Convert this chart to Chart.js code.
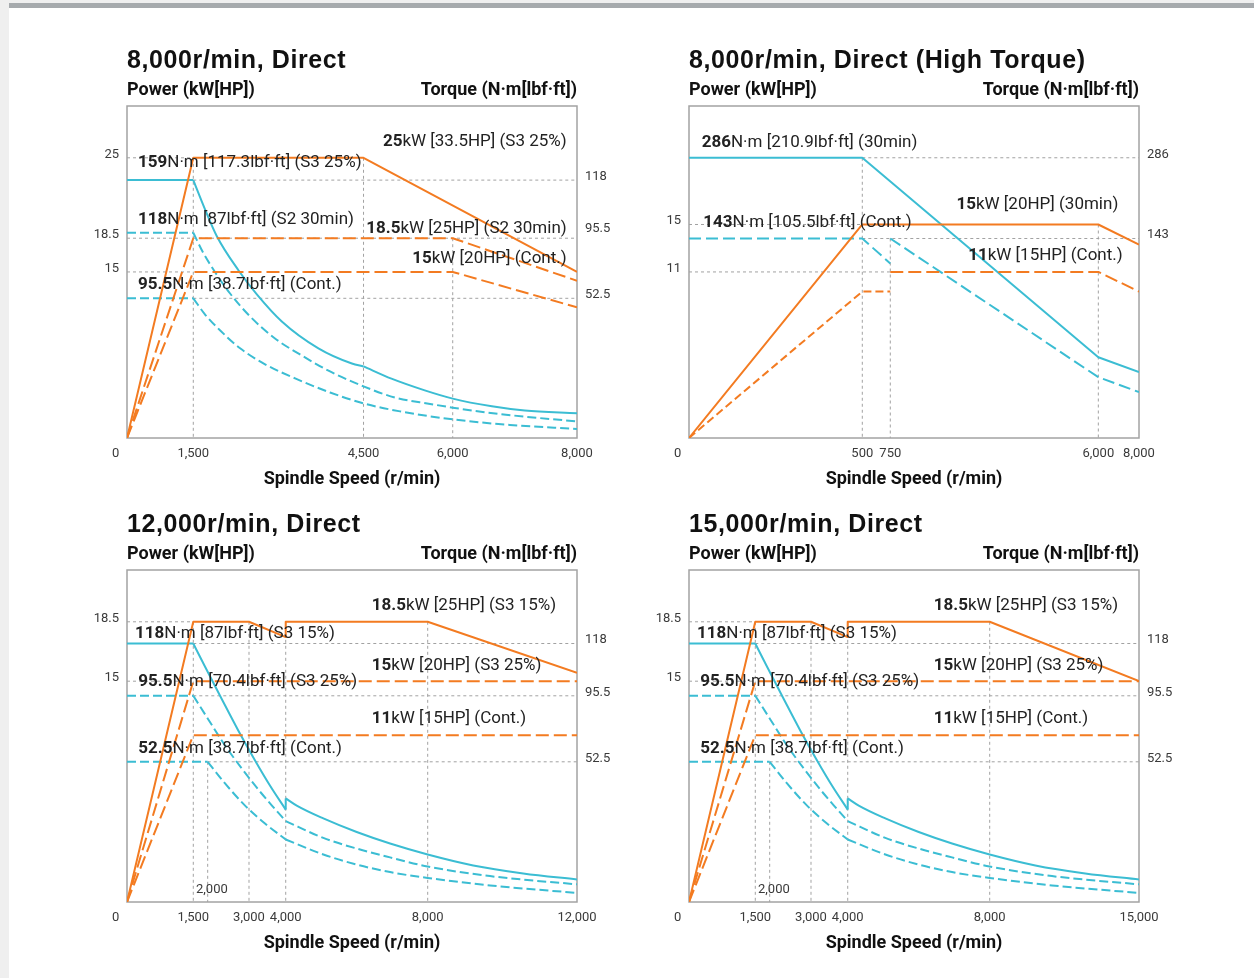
<!DOCTYPE html>
<html>
<head>
<meta charset="utf-8">
<script src="https://cdn.jsdelivr.net/npm/chart.js@4.4.1/dist/chart.umd.min.js"></script>
<style>
html,body{margin:0;padding:0;width:1254px;height:978px;overflow:hidden;background:#efefef;}
#panel{position:absolute;left:9px;top:3px;width:1245px;height:975px;background:#fff;border-top:5px solid #a6aaad;box-sizing:border-box;}
canvas{position:absolute;}
</style>
</head>
<body>
<div id="panel"></div>
<script>
// ================= DATA =================
// ---- Chart A: 8,000r/min, Direct ----
const a_xTicks = [0, 1500, 4500, 6000, 8000];
const a_powerTicks = [15, 18.5, 25];
const a_torqueTicks = [52.5, 95.5, 118];
const a_powerS3 = [[0,0],[1500,25],[4500,25],[8000,15]];
const a_powerS2 = [[0,0],[1500,18.5],[6000,18.5],[8000,14.2]];
const a_powerCont = [[0,0],[1500,15],[6000,15],[8000,11.8]];
const a_torqueS3Flat = [[0,118],[1500,118]];
const a_torqueS3CurveA = [[1500,118],[1705,105.6],[1915,93.2],[2295,70.9],[2620,55.1],[3060,43.8],[3705,33.7],[4295,28],[4500,26.9]];
const a_torqueS3CurveB = [[4500,26.9],[4970,22.3],[5530,17.9],[6000,14.8],[6630,11.9],[7160,10.3],[8000,9.3]];
const a_torqueS2Flat = [[0,95.5],[1500,95.5]];
const a_torqueS2Curve = [[1500,95.5],[1670,82.7],[1885,69.6],[2145,55.8],[2500,45.7],[2940,37.4],[3380,31.4],[3910,25],[4500,19.4],[5030,15.2],[5620,12.8],[6000,11.4],[6760,9],[8000,6.2]];
const a_torqueContFlat = [[0,52.5],[1500,52.5]];
const a_torqueContCurve = [[1500,52.5],[1705,46.5],[1970,40.5],[2325,33.7],[2765,27.7],[3295,22.4],[3910,17.1],[4500,13],[5115,10],[6000,7],[6920,4.9],[8000,3.4]];
const a_guidePower = [[[0,25],[1500,25]], [[0,18.5],[8000,18.5]], [[0,15],[1500,15]], [[1500,25],[1500,0]], [[4500,25],[4500,0]], [[6000,18.5],[6000,0]]];
const a_guideTorque = [[[1500,118],[8000,118]], [[1500,52.5],[8000,52.5]]];

// ---- Chart B: 8,000r/min, Direct (High Torque) ----
const b_xTicks = [0, 500, 750, 6000, 8000];
const b_powerTicks = [11, 15];
const b_torqueTicks = [143, 286];
const b_power30 = [[0,0],[500,15],[6000,15],[8000,13.3]];
const b_powerContA = [[0,0],[500,9.7],[750,9.7]];
const b_powerContB = [[750,11],[6000,11],[8000,9.7]];
const b_torque30 = [[0,286],[500,286],[6000,57.9],[8000,47.2]];
const b_torqueContA = [[0,143],[500,143],[750,125.1]];
const b_torqueContB = [[750,143],[6000,43.6],[8000,32.9]];
const b_guidePower = [[[0,15],[500,15]], [[0,11],[750,11]], [[6000,15],[6000,0]]];
const b_guideTorque = [[[500,286],[8000,286]], [[500,143],[8000,143]], [[500,286],[500,0]], [[750,143],[750,0]]];

// ---- Chart C: 12,000r/min, Direct ----
const c_xTicks = [0, 1500, 3000, 4000, 8000, 12000];
const c_powerTicks = [15, 18.5];
const c_torqueTicks = [52.5, 95.5, 118];
const c_powerS3_15 = [[0,0],[1500,18.5],[3000,18.5],[4000,17.6],[4000,18.5],[8000,18.5],[12000,15.5]];
const c_powerS3_25 = [[0,0],[1500,15],[12000,15]];
const c_powerCont = [[0,0],[1500,11],[12000,11]];
const c_torqueS3_15Flat = [[0,118],[1500,118]];
const c_torqueS3_15CurveA = [[1500,118],[1905,108.1],[2340,93.4],[2740,72.9],[3165,53.3],[3570,43.6],[4000,34.6]];
const c_torqueS3_15Step = [[4000,34.6],[4000,38.8]];
const c_torqueS3_15CurveB = [[4000,38.8],[4310,36.1],[5060,31.3],[6000,26.2],[6940,21.9],[8000,17.8],[9220,13.7],[10560,10.7],[12000,8.4]];
const c_torqueS3_25Flat = [[0,95.5],[1500,95.5]];
const c_torqueS3_25CurveA = [[1500,95.5],[2015,80.1],[2420,63.1],[2825,50],[3255,42.1],[3625,36.1],[4000,30.3]];
const c_torqueS3_25CurveB = [[4000,30.3],[5060,24],[6000,20],[6940,16.7],[8000,13.3],[9670,9.7],[12000,6.6]];
const c_torqueContFlat = [[0,52.5],[2000,52.5]];
const c_torqueContCurveA = [[2000,52.5],[2420,44.4],[2905,36.1],[3435,29.4],[4000,23.4]];
const c_torqueContCurveB = [[4000,23.4],[5060,17.8],[6000,14],[6940,11.2],[8000,9],[9670,6.2],[12000,3.4]];
const c_guidePower = [[[0,18.5],[1500,18.5]], [[0,15],[1500,15]], [[1500,18.5],[1500,0]], [[3000,18.5],[3000,0]], [[4000,18.5],[4000,0]], [[8000,18.5],[8000,0]]];
const c_guideTorque = [[[1500,118],[12000,118]], [[1500,95.5],[12000,95.5]], [[2000,52.5],[12000,52.5]], [[2000,52.5],[2000,0]]];

// ---- Chart D: 15,000r/min, Direct ----
const d_xTicks = [0, 1500, 3000, 4000, 8000, 15000];
const d_powerTicks = [15, 18.5];
const d_torqueTicks = [52.5, 95.5, 118];
const d_powerS3_15 = [[0,0],[1500,18.5],[3000,18.5],[4000,17.6],[4000,18.5],[8000,18.5],[15000,15]];
const d_powerS3_25 = [[0,0],[1500,15],[15000,15]];
const d_powerCont = [[0,0],[1500,11],[15000,11]];
const d_torqueS3_15Flat = [[0,118],[1500,118]];
const d_torqueS3_15CurveA = [[1500,118],[1905,108.1],[2340,93.4],[2740,72.9],[3165,53.3],[3570,43.6],[4000,34.6]];
const d_torqueS3_15Step = [[4000,34.6],[4000,38.8]];
const d_torqueS3_15CurveB = [[4000,38.8],[4310,36.1],[5060,31.3],[6000,26.2],[6940,21.9],[8000,17.8],[10140,13.7],[12480,10.7],[15000,8.4]];
const d_torqueS3_25Flat = [[0,95.5],[1500,95.5]];
const d_torqueS3_25CurveA = [[1500,95.5],[2015,80.1],[2420,63.1],[2825,50],[3255,42.1],[3625,36.1],[4000,30.3]];
const d_torqueS3_25CurveB = [[4000,30.3],[5060,24],[6000,20],[6940,16.7],[8000,13.3],[10920,9.7],[15000,6.6]];
const d_torqueContFlat = [[0,52.5],[2000,52.5]];
const d_torqueContCurveA = [[2000,52.5],[2420,44.4],[2905,36.1],[3435,29.4],[4000,23.4]];
const d_torqueContCurveB = [[4000,23.4],[5060,17.8],[6000,14],[6940,11.2],[8000,9],[10920,6.2],[15000,3.4]];
const d_guidePower = [[[0,18.5],[1500,18.5]], [[0,15],[1500,15]], [[1500,18.5],[1500,0]], [[3000,18.5],[3000,0]], [[4000,18.5],[4000,0]], [[8000,18.5],[8000,0]]];
const d_guideTorque = [[[1500,118],[15000,118]], [[1500,95.5],[15000,95.5]], [[2000,52.5],[15000,52.5]], [[2000,52.5],[2000,0]]];

// ================= STYLE / LAYOUT =================
const ORANGE = '#f37b21', CYAN = '#3bbdd3', GRID = '#a2a2a2', FRAME = '#a3a3a3', INK = '#111', NOTE = '#222', TICK = '#3a3a3a';
const ODASH = [13,5], CDASH = [9,4], ODASH2 = [8,4], CDASH2 = [12,5];
const CW = 540, CH = 474, PAD_L = 40, PAD_R = 50, PAD_T = 80, PAD_B = 62;
Chart.defaults.font.family = 'Roboto';

// piecewise scale (schematic, non-uniform axes)
const PW = {};
class PiecewiseScale extends Chart.LinearScale {
  static id = 'piecewise';
  static defaults = {};
  _pw() { return PW[this.chart.canvas.id][this.id]; }
  buildTicks() { return this._pw().ticks.map(v => ({ value: v })); }
  getPixelForValue(v) {
    if (v === null || v === undefined || isNaN(v)) return NaN;
    const { vals, fracs } = this._pw();
    let i = 1;
    while (i < vals.length - 1 && v > vals[i]) i++;
    const f = fracs[i-1] + (v - vals[i-1]) * (fracs[i] - fracs[i-1]) / (vals[i] - vals[i-1]);
    return this.isHorizontal() ? this.left + f * this.width : this.bottom - f * this.height;
  }
  getValueForPixel(p) {
    const { vals, fracs } = this._pw();
    const f = this.isHorizontal() ? (p - this.left) / this.width : (this.bottom - p) / this.height;
    let i = 1;
    while (i < fracs.length - 1 && f > fracs[i]) i++;
    return vals[i-1] + (f - fracs[i-1]) * (vals[i] - vals[i-1]) / (fracs[i] - fracs[i-1]);
  }
}
Chart.register(PiecewiseScale);

const S = (data, axis, color, dash, smooth) => ({ data, axis, color, dash: dash || [], smooth: !!smooth });

const NOTES_CD = [
  ['18.5','kW [25HP] (S3 15%)','l',244.7,35.5],
  ['118','N·m [87lbf·ft] (S3 15%)','l',8,63.8],
  ['15','kW [20HP] (S3 25%)','l',244.7,95.5],
  ['95.5','N·m [70.4lbf·ft] (S3 25%)','l',11.3,112.2],
  ['11','kW [15HP] (Cont.)','l',244.7,148.8],
  ['52.5','N·m [38.7lbf·ft] (Cont.)','l',11.3,178.8]
];

const CHARTS = [
  { id: 'cA', left: 87, top: 26, title: '8,000r/min, Direct',
    x: { ticks: a_xTicks, vals: [0,1500,4500,6000,8000], fracs: [0,0.1473,0.5256,0.7238,1] },
    p: { ticks: a_powerTicks, vals: [0,15,18.5,25,29.2], fracs: [0,0.5002,0.6018,0.844,1] },
    t: { ticks: a_torqueTicks, vals: [0,52.5,95.5,118,149.7], fracs: [0,0.4208,0.6184,0.7768,1] },
    series: [
      S(a_powerS3,'p',ORANGE), S(a_powerS2,'p',ORANGE,ODASH), S(a_powerCont,'p',ORANGE,ODASH),
      S(a_torqueS3Flat,'t',CYAN), S(a_torqueS3CurveA,'t',CYAN,null,true), S(a_torqueS3CurveB,'t',CYAN,null,true),
      S(a_torqueS2Flat,'t',CYAN,CDASH), S(a_torqueS2Curve,'t',CYAN,CDASH,true),
      S(a_torqueContFlat,'t',CYAN,CDASH), S(a_torqueContCurve,'t',CYAN,CDASH,true)
    ],
    guideP: a_guidePower, guideT: a_guideTorque,
    notes: [
      ['159','N·m [117.3lbf·ft] (S3 25%)','l',11,57],
      ['118','N·m [87lbf·ft] (S2 30min)','l',11,113.3],
      ['95.5','N·m [38.7lbf·ft] (Cont.)','l',11,178.5],
      ['25','kW [33.5HP] (S3 25%)','r',439.7,36],
      ['18.5','kW [25HP] (S2 30min)','r',439.7,122.3],
      ['15','kW [20HP] (Cont.)','r',439.7,152.3]
    ], small: [] },
  { id: 'cB', left: 649, top: 26, title: '8,000r/min, Direct (High Torque)',
    x: { ticks: b_xTicks, vals: [0,500,750,6000,8000], fracs: [0,0.3851,0.4473,0.9096,1] },
    p: { ticks: b_powerTicks, vals: [0,11,15,25], fracs: [0,0.5002,0.6431,1] },
    t: { ticks: b_torqueTicks, vals: [0,143,286,377.7], fracs: [0,0.6009,0.8441,1] },
    series: [
      S(b_power30,'p',ORANGE), S(b_powerContA,'p',ORANGE,ODASH2), S(b_powerContB,'p',ORANGE,ODASH),
      S(b_torque30,'t',CYAN), S(b_torqueContA,'t',CYAN,CDASH2), S(b_torqueContB,'t',CYAN,CDASH2)
    ],
    guideP: b_guidePower, guideT: b_guideTorque,
    notes: [
      ['286','N·m [210.9lbf·ft] (30min)','l',12.7,36.7],
      ['143','N·m [105.5lbf·ft] (Cont.)','l',14.3,116.7],
      ['15','kW [20HP] (30min)','r',429.3,98.3],
      ['11','kW [15HP] (Cont.)','r',433.7,149.3]
    ], small: [] },
  { id: 'cC', left: 87, top: 490, title: '12,000r/min, Direct',
    x: { ticks: c_xTicks, vals: [0,1500,2000,3000,4000,8000,12000], fracs: [0,0.1473,0.1793,0.2711,0.3527,0.6682,1] },
    p: { ticks: c_powerTicks, vals: [0,11,15,18.5,21.55], fracs: [0,0.5024,0.6651,0.844,1] },
    t: { ticks: c_torqueTicks, vals: [0,52.5,95.5,118,149.6], fracs: [0,0.4223,0.6211,0.7786,1] },
    series: [
      S(c_powerS3_15,'p',ORANGE), S(c_powerS3_25,'p',ORANGE,ODASH), S(c_powerCont,'p',ORANGE,ODASH),
      S(c_torqueS3_15Flat,'t',CYAN), S(c_torqueS3_15CurveA,'t',CYAN,null,true), S(c_torqueS3_15Step,'t',CYAN), S(c_torqueS3_15CurveB,'t',CYAN,null,true),
      S(c_torqueS3_25Flat,'t',CYAN,CDASH), S(c_torqueS3_25CurveA,'t',CYAN,CDASH,true), S(c_torqueS3_25CurveB,'t',CYAN,CDASH,true),
      S(c_torqueContFlat,'t',CYAN,CDASH), S(c_torqueContCurveA,'t',CYAN,CDASH,true), S(c_torqueContCurveB,'t',CYAN,CDASH,true)
    ],
    guideP: c_guidePower, guideT: c_guideTorque,
    notes: NOTES_CD, small: [['2,000',69,320]] },
  { id: 'cD', left: 649, top: 490, title: '15,000r/min, Direct',
    x: { ticks: d_xTicks, vals: [0,1500,2000,3000,4000,8000,15000], fracs: [0,0.1473,0.1793,0.2711,0.3527,0.6682,1] },
    p: { ticks: d_powerTicks, vals: [0,11,15,18.5,21.55], fracs: [0,0.5024,0.6651,0.844,1] },
    t: { ticks: d_torqueTicks, vals: [0,52.5,95.5,118,149.6], fracs: [0,0.4223,0.6211,0.7786,1] },
    series: [
      S(d_powerS3_15,'p',ORANGE), S(d_powerS3_25,'p',ORANGE,ODASH), S(d_powerCont,'p',ORANGE,ODASH),
      S(d_torqueS3_15Flat,'t',CYAN), S(d_torqueS3_15CurveA,'t',CYAN,null,true), S(d_torqueS3_15Step,'t',CYAN), S(d_torqueS3_15CurveB,'t',CYAN,null,true),
      S(d_torqueS3_25Flat,'t',CYAN,CDASH), S(d_torqueS3_25CurveA,'t',CYAN,CDASH,true), S(d_torqueS3_25CurveB,'t',CYAN,CDASH,true),
      S(d_torqueContFlat,'t',CYAN,CDASH), S(d_torqueContCurveA,'t',CYAN,CDASH,true), S(d_torqueContCurveB,'t',CYAN,CDASH,true)
    ],
    guideP: d_guidePower, guideT: d_guideTorque,
    notes: NOTES_CD, small: [['2,000',69,320]] }
];

const META = {};

const decor = {
  id: 'decor',
  beforeDatasetsDraw(chart) {
    const a = chart.chartArea, ctx = chart.ctx;
    ctx.save();
    ctx.strokeStyle = FRAME; ctx.lineWidth = 1.5;
    ctx.strokeRect(a.left, a.top, a.right - a.left, a.bottom - a.top);
    ctx.restore();
  },
  afterDraw(chart) {
    const m = META[chart.canvas.id]; if (!m) return;
    const a = chart.chartArea, ctx = chart.ctx;
    ctx.save();
    ctx.textBaseline = 'middle';
    ctx.fillStyle = INK;
    ctx.textAlign = 'left';
    ctx.font = 'bold 25px "Liberation Sans"';
    ctx.letterSpacing = '0.6px';
    ctx.fillText(m.title, a.left, a.top - 45);
    ctx.letterSpacing = '0px';
    ctx.font = 'bold 18px Roboto';
    ctx.fillText('Power (kW[HP])', a.left, a.top - 15.5);
    ctx.textAlign = 'right';
    ctx.fillText('Torque (N·m[lbf·ft])', a.right, a.top - 15.5);
    ctx.textAlign = 'center';
    ctx.fillText('Spindle Speed (r/min)', (a.left + a.right) / 2, a.bottom + 41);
    ctx.textAlign = 'left';
    ctx.fillStyle = NOTE;
    for (const n of m.notes) {
      ctx.font = 'bold 17px Roboto'; const wb = ctx.measureText(n[0]).width;
      ctx.font = '17px Roboto'; const wr = ctx.measureText(n[1]).width;
      let x = a.left + n[3];
      if (n[2] === 'r') x -= wb + wr;
      const y = a.top + n[4];
      ctx.font = 'bold 17px Roboto'; ctx.fillText(n[0], x, y);
      ctx.font = '17px Roboto'; ctx.fillText(n[1], x + wb, y);
    }
    ctx.fillStyle = TICK;
    ctx.font = '13px Roboto';
    for (const s of m.small) ctx.fillText(s[0], a.left + s[1], a.top + s[2]);
    ctx.restore();
  }
};

function axisOpts(def, extra) {
  return Object.assign({
    type: 'piecewise', min: def.vals[0], max: def.vals[def.vals.length - 1],
    grid: { display: false, drawTicks: false, tickLength: 0 }, border: { display: false }
  }, extra);
}

for (const c of CHARTS) {
  const cv = document.createElement('canvas');
  cv.id = c.id; cv.width = CW; cv.height = CH;
  cv.style.left = c.left + 'px'; cv.style.top = c.top + 'px';
  cv.style.width = CW + 'px'; cv.style.height = CH + 'px';
  document.body.appendChild(cv);
  PW[c.id] = { x: c.x, p: c.p, t: c.t };
  META[c.id] = c;

  const datasets = [];
  for (const s of c.series) {
    datasets.push({
      data: s.data, xAxisID: 'x', yAxisID: s.axis,
      borderColor: s.color, borderWidth: 2, borderDash: s.dash,
      pointRadius: 0, pointHoverRadius: 0, fill: false,
      tension: 0, cubicInterpolationMode: s.smooth ? 'monotone' : 'default',
      borderCapStyle: 'butt', borderJoinStyle: 'round'
    });
  }
  const addGuides = (list, axis) => list.forEach(g => datasets.push({
    data: g, xAxisID: 'x', yAxisID: axis, borderColor: GRID, borderWidth: 1,
    borderDash: [3,3], pointRadius: 0, fill: false, tension: 0
  }));
  addGuides(c.guideP, 'p');
  addGuides(c.guideT, 't');

  new Chart(cv, {
    type: 'line',
    data: { datasets },
    options: {
      responsive: false, animation: false, events: [],
      layout: { padding: { top: PAD_T, left: 0, right: 0, bottom: 0 } },
      plugins: { legend: { display: false }, tooltip: { enabled: false }, title: { display: false } },
      scales: {
        x: axisOpts(c.x, {
          position: 'bottom',
          ticks: { autoSkip: false, maxRotation: 0, minRotation: 0, padding: 8, color: TICK, font: { size: 13 },
            callback: v => v === 0 ? '0       ' : Number(v).toLocaleString('en-US') },
          afterFit: s => { s.height = PAD_B; }
        }),
        p: axisOpts(c.p, {
          axis: 'y', position: 'left',
          ticks: { padding: 8, labelOffset: -3.5, color: TICK, font: { size: 13 }, callback: v => String(v) },
          afterFit: s => { s.width = PAD_L; }
        }),
        t: axisOpts(c.t, {
          axis: 'y', position: 'right',
          ticks: { padding: 8, labelOffset: -3.5, color: TICK, font: { size: 13 }, callback: v => String(v) },
          afterFit: s => { s.width = PAD_R; }
        })
      }
    },
    plugins: [decor]
  });
}
</script>
</body>
</html>
